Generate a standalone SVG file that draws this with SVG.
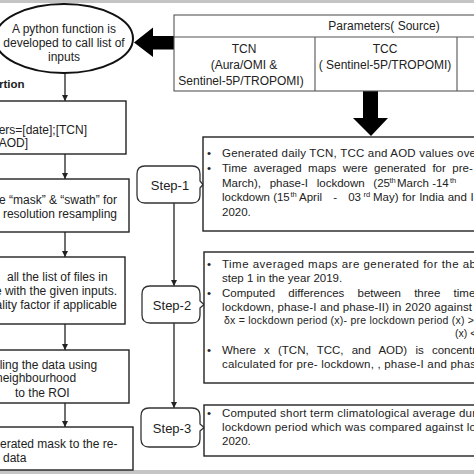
<svg xmlns="http://www.w3.org/2000/svg" width="474" height="474" viewBox="0 0 474 474">
<defs>
<marker id="ah" viewBox="0 0 10 10" refX="10" refY="5" markerWidth="6" markerHeight="7" markerUnits="userSpaceOnUse" orient="auto"><path d="M0,0 L10,5 L0,10 z" fill="#222"/></marker>
<style>
.t{font-family:"Liberation Sans",Arial,sans-serif;font-size:12px;fill:#222}
.s{font-size:11.5px}
.d{font-size:10.5px}
.sup{font-size:7.5px}
.m{text-anchor:middle}
.e{text-anchor:end}
.b{font-weight:bold;font-size:11.5px}
.box{fill:#fff;stroke:#222;stroke-width:1.4}
.tbl{fill:none;stroke:#555;stroke-width:1.1}
.con{stroke:#222;stroke-width:1.3;fill:none;marker-end:url(#ah)}
.step{fill:#fff;stroke:#333;stroke-width:1.3}
.big{fill:#000}
</style>
</defs>
<rect width="474" height="474" fill="#fff"/>
<rect x="0" y="0" width="474" height="3" fill="#c4c4c4"/>
<rect x="0" y="470" width="474" height="4" fill="#c4c4c4"/>

<g id="connectors">
<path class="con" d="M65,73 V101"/>
<path class="con" d="M65,154 V179"/>
<path class="con" d="M65,232 V257"/>
<path class="con" d="M65,324 V350"/>
<path class="con" d="M65,403 V427"/>
<path class="con" d="M174,203 V286"/>
<path class="con" d="M174,323 V408"/>
<polygon class="big" points="134,42.5 153,27.5 153,36 174,36 174,49.5 153,49.5 153,57"/>
<polygon class="big" points="363,91 378,91 378,118 388,118 371,136 353,118 363,118"/>
</g>

<g id="python-function">
<ellipse cx="64" cy="38.5" rx="69" ry="34.5" fill="#fff" stroke="#111" stroke-width="2"/>
<text class="t m" x="64" y="33">A python function is</text>
<text class="t m" x="64" y="47">developed to call list of</text>
<text class="t m" x="64" y="61">inputs</text>
</g>

<g id="section-label">
<text class="t b" x="-1" y="88">rtion</text>
</g>

<g id="parameters-table">
<rect class="tbl" x="174" y="15" width="310" height="76" fill="#fff"/>
<line class="tbl" x1="174" y1="37" x2="480" y2="37"/>
<line class="tbl" x1="315" y1="37" x2="315" y2="91"/>
<line class="tbl" x1="457" y1="37" x2="457" y2="91"/>
<text class="t m" x="384" y="30">Parameters( Source)</text>
<text class="t m" x="244" y="53">TCN</text>
<text class="t m" x="244" y="69">(Aura/OMI &amp;</text>
<text class="t m" x="241" y="85">Sentinel-5P/TROPOMI)</text>
<text class="t m" x="385" y="53">TCC</text>
<text class="t m" x="385" y="69">( Sentinel-5P/TROPOMI)</text>
</g>

<g id="box-parameters">
<rect class="box" x="-10" y="101" width="136" height="53"/>
<text class="t e" x="87" y="134">ers=[date];[TCN]</text>
<text class="t e" x="28" y="147">AOD]</text>
</g>

<g id="box-mask">
<rect class="box" x="-10" y="179" width="139" height="53"/>
<text class="t e" x="117" y="204">e “mask” &amp; “swath” for</text>
<text class="t e" x="117" y="218">l resolution resampling</text>
</g>

<g id="box-files">
<rect class="box" x="-10" y="257" width="135" height="67"/>
<text class="t" x="7" y="281">all the list of files in</text>
<text class="t e" x="117" y="295">e with the given inputs.</text>
<text class="t e" x="117" y="309">ality factor if applicable</text>
</g>

<g id="box-resample">
<rect class="box" x="-10" y="350" width="139" height="53"/>
<text class="t" x="-3" y="369">lling the data using</text>
<text class="t" x="-4" y="382">neighbourhood</text>
<text class="t" x="15" y="397">to the ROI</text>
</g>

<g id="box-apply-mask">
<rect class="box" x="-10" y="427" width="143" height="43"/>
<text class="t" x="0" y="448">erated mask to the re-</text>
<text class="t" x="3" y="462">data</text>
</g>

<g id="step-1">
<path class="step" d="M145,166 H192 Q200,166 200,174 V181 L203,184.5 L200,188 V195 Q200,203 192,203 H145 Q137,203 137,195 V174 Q137,166 145,166 Z"/>
<text class="t m" x="170" y="190" style="font-size:13px">Step-1</text>
</g>

<g id="step-2">
<path class="step" d="M150,286 H192 Q200,286 200,294 V301 L204,304.5 L200,308 V315 Q200,323 192,323 H150 Q142,323 142,315 V294 Q142,286 150,286 Z"/>
<text class="t m" x="172" y="310" style="font-size:13px">Step-2</text>
</g>

<g id="step-3">
<path class="step" d="M149,408 H192 Q200,408 200,416 V424 L204,427.5 L200,431 V439 Q200,447 192,447 H149 Q141,447 141,439 V416 Q141,408 149,408 Z"/>
<text class="t m" x="172" y="433" style="font-size:13px">Step-3</text>
</g>

<g id="step-1-details">
<rect class="box" x="203" y="137" width="280" height="94"/>
<text class="t s" x="207" y="157">•</text>
<text class="t s" x="207" y="172">•</text>
<text class="t s" x="222" y="157" textLength="254" lengthAdjust="spacing">Generated daily TCN, TCC and AOD values ove</text>
<text class="t s" x="222" y="172" word-spacing="3.3">Time averaged maps were generated for pre-</text>
<text class="t s" x="222" y="187" word-spacing="5.5">March), phase-I lockdown (25</text>
<text class="t sup" x="389.5" y="183">th</text>
<text class="t s" x="397" y="187">March -14</text>
<text class="t sup" x="450" y="183">th</text>
<text class="t s" x="222" y="201">lockdown (15</text>
<text class="t sup" x="290.5" y="197">th</text>
<text class="t s" x="299" y="201" word-spacing="8">April - 03</text>
<text class="t sup" x="363.5" y="197">rd</text>
<text class="t s" x="373" y="201" word-spacing="0.4">May) for India and I</text>
<text class="t s" x="222" y="216">2020.</text>
</g>

<g id="step-2-details">
<rect class="box" x="204" y="252" width="280" height="131"/>
<text class="t s" x="207" y="268">•</text>
<text class="t s" x="207" y="297">•</text>
<text class="t s" x="207" y="354">•</text>
<text class="t s" x="222" y="268" textLength="254" lengthAdjust="spacing">Time averaged maps are generated for the ab</text>
<text class="t s" x="222" y="282">step 1 in the year 2019.</text>
<text class="t s" x="222" y="297" word-spacing="10">Computed differences between three time</text>
<text class="t s" x="222" y="311" textLength="250" lengthAdjust="spacing">lockdown, phase-I and phase-II) in 2020 against</text>
<text class="t d" x="224" y="324" textLength="250" lengthAdjust="spacing">δx = lockdown period (x)- pre lockdown period (x) &gt;</text>
<text class="t d" x="455" y="337">(x) &lt;</text>
<text class="t s" x="222" y="354" word-spacing="5">Where x (TCN, TCC, and AOD) is concentr</text>
<text class="t s" x="222" y="368" textLength="254" lengthAdjust="spacing">calculated for pre- lockdown, , phase-I and phas</text>
</g>

<g id="step-3-details">
<rect class="box" x="204" y="405" width="280" height="51"/>
<text class="t s" x="207" y="417">•</text>
<text class="t s" x="222" y="417" textLength="254" lengthAdjust="spacing">Computed short term climatological average dur</text>
<text class="t s" x="222" y="431" textLength="254" lengthAdjust="spacing">lockdown period which was compared against lo</text>
<text class="t s" x="222" y="445">2020.</text>
</g>
</svg>
